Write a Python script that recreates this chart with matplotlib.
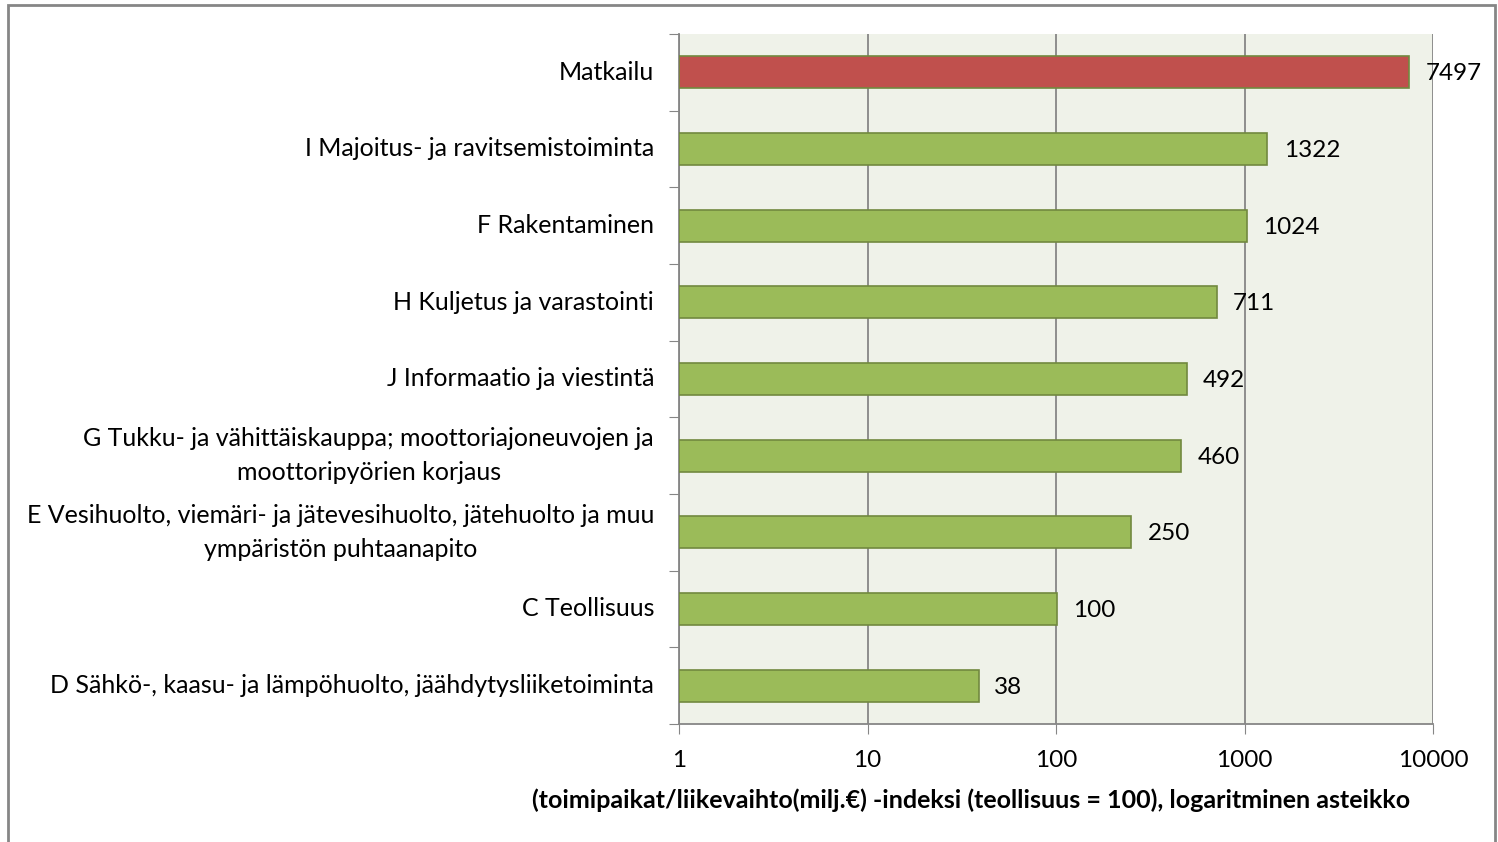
import matplotlib.pyplot as plt
from matplotlib.patches import Rectangle

plt.rcParams['font.family'] = ['Lato', 'DejaVu Sans']

# Data (top to bottom as shown)
categories = [
    "Matkailu",
    "I Majoitus- ja ravitsemistoiminta",
    "F Rakentaminen",
    "H Kuljetus ja varastointi",
    "J Informaatio ja viestintä",
    "G Tukku- ja vähittäiskauppa; moottoriajoneuvojen ja\nmoottoripyörien korjaus",
    "E Vesihuolto, viemäri- ja jätevesihuolto, jätehuolto ja muu\nympäristön puhtaanapito",
    "C Teollisuus",
    "D Sähkö-, kaasu- ja lämpöhuolto, jäähdytysliiketoiminta",
]
values = [7497, 1322, 1024, 711, 492, 460, 250, 100, 38]
bar_colors = ["#C0504D"] + ["#9BBB59"] * 8
xticks = [1, 10, 100, 1000, 10000]
xlabel = "(toimipaikat/liikevaihto(milj.€) -indeksi (teollisuus = 100), logaritminen asteikko"

W, H = 1498, 842
fs = 17.5
fig = plt.figure(figsize=(W / 100, H / 100), dpi=100)
ax = fig.add_axes([679 / W, 1 - 724 / H, (1433 - 679) / W, (724 - 34) / H])

# outer chart border
fig.patches.append(Rectangle((8 / W, -0.05), (1495 - 8) / W, 1 - 5 / H + 0.05,
                             transform=fig.transFigure, fill=False,
                             edgecolor="#868686", linewidth=2))

ax.set_facecolor("#EFF2E9")
n = len(categories)
ypos = list(range(n))
ax.barh(ypos, values, left=1, height=0.42, color=bar_colors,
        edgecolor="#71893F", linewidth=1.2, zorder=3)
ax.set_xscale("log")
ax.set_xlim(1, 10000)
ax.set_ylim(n - 0.5, -0.5)

for y, v in zip(ypos, values):
    ax.annotate(str(v), (v, y), xytext=(12, -1), textcoords="offset points",
                va="center", ha="left", fontsize=fs, color="black", zorder=4)

ax.set_xticks(xticks)
ax.set_xticklabels([str(t) for t in xticks], fontsize=fs)
ax.minorticks_off()
ax.set_yticks([y - 0.5 for y in range(n + 1)], minor=False)
ax.set_yticklabels([])
for y, c in zip(ypos, categories):
    ax.text(-0.033, y, c, transform=ax.get_yaxis_transform(), ha="right",
            va="center", fontsize=18, linespacing=1.55, multialignment="center")

ax.tick_params(axis="x", direction="out", length=7, color="#868686", pad=12)
ax.tick_params(axis="y", direction="out", length=7, color="#868686")
ax.grid(axis="x", color="#868686", linewidth=1.3, zorder=1)
for s in ["top", "right"]:
    ax.spines[s].set_visible(False)
for s in ["left", "bottom"]:
    ax.spines[s].set_color("#868686")
    ax.spines[s].set_linewidth(1.3)

fig.text(971 / W, 1 - 800 / H, xlabel, ha="center", va="center",
         fontsize=18, fontweight="bold")

fig.savefig("out.png", dpi=100)
